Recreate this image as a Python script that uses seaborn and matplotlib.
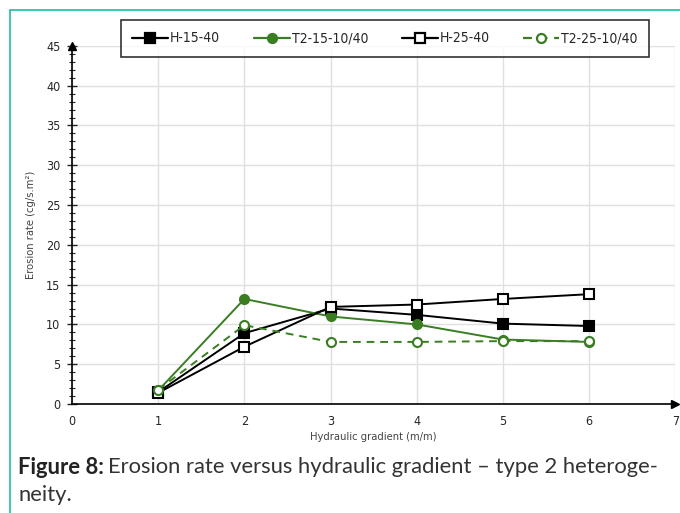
import numpy as np
import pandas as pd
import matplotlib.pyplot as plt
import matplotlib.lines as mlines
import seaborn as sns

# dados
gradiente = [1, 2, 3, 4, 5, 6]
h_15_40 = [1.5, 8.9, 12.0, 11.2, 10.1, 9.8]
t2_15_1040 = [1.7, 13.2, 11.0, 10.0, 8.1, 7.8]
h_25_40 = [1.4, 7.2, 12.2, 12.5, 13.2, 13.8]
t2_25_1040 = [1.8, 9.9, 7.8, 7.8, 7.9, 7.9]

series = ['H-15-40', 'T2-15-10/40', 'H-25-40', 'T2-25-10/40']
valores = [h_15_40, t2_15_1040, h_25_40, t2_25_1040]

sns.set_style('white')
plt.rcParams['font.family'] = ['Liberation Sans Narrow', 'DejaVu Sans']
plt.rcParams['font.stretch'] = 'condensed'

verde = '#3a7d22'
estilos = {
    'H-15-40': dict(color='black', marker='s', mfc='black', mec='black', ls='-'),
    'T2-15-10/40': dict(color=verde, marker='o', mfc=verde, mec=verde, ls='-'),
    'H-25-40': dict(color='black', marker='s', mfc='white', mec='black', ls='-'),
    'T2-25-10/40': dict(color=verde, marker='o', mfc='white', mec=verde, ls=(0, (4, 3))),
}

fig = plt.figure(figsize=(6.8, 5.13), dpi=100)
ax = fig.add_axes([0.106, 0.2125, 0.887, 0.698])

for nome, v in zip(series, valores):
    e = estilos[nome]
    sns.lineplot(x=gradiente, y=v, ax=ax, color=e['color'], linestyle=e['ls'],
                 lw=1.4, marker=e['marker'], markersize=6.5, markerfacecolor=e['mfc'],
                 markeredgecolor=e['mec'], markeredgewidth=1.5, zorder=3)

ax.set_xlim(0, 7)
ax.set_ylim(0, 45)
ax.set_xticks(range(0, 8))
ax.set_yticks(range(0, 46, 5))
ax.set_yticks(range(0, 46), minor=True)
ax.grid(True, color='#e0e0e0', lw=1)
ax.set_axisbelow(True)
for s in ['top', 'right']:
    ax.spines[s].set_visible(False)
ax.spines['left'].set_color('black')
ax.spines['bottom'].set_color('black')
ax.spines['left'].set_linewidth(1.2)
ax.spines['bottom'].set_linewidth(1.2)
ax.tick_params(axis='y', which='major', direction='inout', length=7, width=1, labelsize=9, pad=5, left=True)
ax.tick_params(axis='y', which='minor', direction='inout', length=4, width=0.8, left=True)
ax.tick_params(axis='x', length=0, labelsize=9, pad=8)
ax.set_xlabel('Hydraulic gradient (m/m)', fontsize=8, color='#444444', labelpad=3)
ax.set_ylabel('Erosion rate (cg/s.m²)', fontsize=8, color='#444444', labelpad=7)

# setas dos eixos
ax.plot(1, 0, '>', color='black', ms=6, transform=ax.transAxes, clip_on=False)
ax.plot(0, 1, '^', color='black', ms=6, transform=ax.transAxes, clip_on=False)

handles = [mlines.Line2D([], [], color=estilos[n]['color'], ls=estilos[n]['ls'], lw=1.6,
                         marker=estilos[n]['marker'], ms=6.5, mfc=estilos[n]['mfc'],
                         mec=estilos[n]['mec'], mew=1.6) for n in series]
leg = fig.legend(handles, series, loc='center', bbox_to_anchor=(0.566, 0.925), ncol=4,
                 fontsize=10, frameon=True, fancybox=False, edgecolor='black',
                 handlelength=2.6, handletextpad=0.15, columnspacing=2.4,
                 borderpad=0.8)
leg.get_frame().set_linewidth(1.2)

# moldura verde-água
fig.add_artist(mlines.Line2D([10 / 680, 1], [1 - 10 / 513, 1 - 10 / 513], color='#2ec4a8', lw=1.3))
fig.add_artist(mlines.Line2D([10 / 680, 10 / 680], [0, 1 - 10 / 513], color='#2ec4a8', lw=1.3))

# legenda da figura
t1 = fig.text(18 / 680, 1 - 467 / 513, 'Figure 8:', fontsize=15.8, va='center',
              family='Lato', fontweight='bold', color='#222222', stretch='normal')
fig.canvas.draw()
bb = t1.get_window_extent()
fig.text((bb.x1 + 4) / 680, 1 - 467 / 513, 'Erosion rate versus hydraulic gradient – type 2 heteroge-',
         fontsize=15.8, va='center', family='Lato', color='#333333', stretch='normal')
fig.text(18 / 680, 1 - 495 / 513, 'neity.', fontsize=15.8, va='center', family='Lato',
         color='#333333', stretch='normal')

fig.savefig('out.png', dpi=100)
